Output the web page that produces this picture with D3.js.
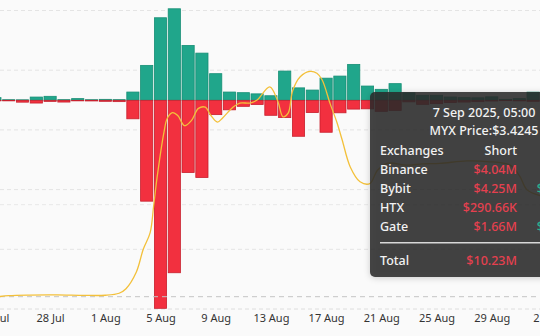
<!DOCTYPE html>
<html>
<head>
<meta charset="utf-8">
<script src="https://cdn.jsdelivr.net/npm/d3@7"></script>
<style>
  html, body { margin: 0; padding: 0; background: #fafafa; }
  svg { display: block; font-family: "Noto Sans", "DejaVu Sans", sans-serif; }
</style>
</head>
<body>
<svg id="chart" width="540" height="336"></svg>
<script>
// Daily liquidations for MYX (USD millions): longs above zero, shorts below
const days = [
  "2025-07-24","2025-07-25","2025-07-26","2025-07-27","2025-07-28","2025-07-29","2025-07-30","2025-07-31",
  "2025-08-01","2025-08-02","2025-08-03","2025-08-04","2025-08-05","2025-08-06","2025-08-07","2025-08-08",
  "2025-08-09","2025-08-10","2025-08-11","2025-08-12","2025-08-13","2025-08-14","2025-08-15","2025-08-16",
  "2025-08-17","2025-08-18","2025-08-19","2025-08-20","2025-08-21","2025-08-22","2025-08-23","2025-08-24",
  "2025-08-25","2025-08-26","2025-08-27","2025-08-28","2025-08-29","2025-08-30","2025-08-31","2025-09-01"
];
const longLiq = [
  0.52, 0.12, 0.10, 0.63, 0.77, 0.13, 0.33, 0.12,
  0.19, 0.13, 1.59, 6.70, 15.83, 17.55, 10.53, 9.05,
  5.11, 1.59, 1.47, 1.24, 0.88, 5.61, 2.39, 1.97,
  4.25, 4.65, 6.89, 2.74, 2.11, 3.20, 1.44, 0.96,
  0.96, 0.63, 0.52, 0.48, 0.67, 0.19, 0.33, 1.57
];
const shortLiq = [
  0.10, 0.10, 0.35, 0.52, 0.20, 0.33, 0.10, 0.12,
  0.19, 0.25, 3.54, 19.33, 39.87, 33.05, 13.84, 14.79,
  2.74, 1.82, 1.15, 0.80, 2.87, 3.31, 6.89, 2.35,
  6.12, 2.39, 1.68, 1.63, 2.11, 1.95, 0.29, 0.77,
  0.63, 0.42, 0.33, 0.25, 0.13, 0.06, 0.10, 0.19
];

// MYX price (USD)
const priceTimes = [
  "2025-07-24T06:00","2025-07-25T00:00","2025-07-26T12:00","2025-07-28T12:00","2025-07-30T12:00",
  "2025-08-01T00:00","2025-08-02T00:00","2025-08-02T12:00","2025-08-03T06:00","2025-08-03T18:00",
  "2025-08-04T06:00","2025-08-04T12:00","2025-08-04T18:00","2025-08-05T06:00","2025-08-05T12:00",
  "2025-08-05T21:00","2025-08-06T06:00","2025-08-06T18:00","2025-08-07T06:00","2025-08-07T18:00",
  "2025-08-08T06:00","2025-08-08T15:00","2025-08-09T03:00","2025-08-09T12:00","2025-08-10T06:00",
  "2025-08-10T18:00","2025-08-11T12:00","2025-08-12T00:00","2025-08-12T22:00","2025-08-13T12:00",
  "2025-08-13T21:00","2025-08-14T06:00","2025-08-14T14:00","2025-08-15T03:00","2025-08-15T20:00",
  "2025-08-16T08:00","2025-08-16T17:00","2025-08-17T07:00","2025-08-17T19:00","2025-08-18T04:00",
  "2025-08-18T18:00","2025-08-19T11:00","2025-08-20T04:00","2025-08-20T17:00","2025-08-21T10:00",
  "2025-08-22T21:00","2025-08-24T00:00","2025-08-25T06:00","2025-08-27T05:00","2025-08-28T16:00",
  "2025-08-30T08:00","2025-08-31T01:00","2025-08-31T13:00","2025-09-01T12:00"
];
const priceValues = [
  0.103, 0.112, 0.117, 0.118, 0.114,
  0.115, 0.132, 0.170, 0.310, 0.500,
  0.640, 0.860, 1.100, 1.480, 1.600,
  1.645, 1.620, 1.535, 1.580, 1.680,
  1.690, 1.625, 1.565, 1.600, 1.690,
  1.725, 1.725, 1.750, 1.860, 1.740,
  1.610, 1.640, 1.830, 1.945, 1.990,
  1.975, 1.920, 1.720, 1.560, 1.415,
  1.190, 1.066, 1.050, 1.160, 1.220,
  1.205, 1.215, 1.220, 1.240, 1.235,
  1.205, 1.110, 1.000, 0.950
];

const tickDates = ["2025-07-24","2025-07-28","2025-08-01","2025-08-05","2025-08-09","2025-08-13",
                   "2025-08-17","2025-08-21","2025-08-25","2025-08-29","2025-09-02"];
const tickLabels = ["24 Jul","28 Jul","1 Aug","5 Aug","9 Aug","13 Aug","17 Aug","21 Aug","25 Aug","29 Aug","2 Sep"];

const barTicks = [-40, -20, 0, 20];
const priceTicks = [0, 0.5, 1, 1.5, 2, 2.5];

// Tooltip contents for the hovered hour
const tipTitle = "7 Sep 2025, 05:00";
const tipPrice = "MYX Price:$3.4245";
const tipHeaders = ["Exchanges", "Short", "Long"];
const tipExchanges = ["Binance", "Bybit", "HTX", "Gate"];
const tipShort = ["$4.04M", "$4.25M", "$290.66K", "$1.66M"];
const tipLong = ["$2.1M", "$850.46K", "$0", "$120.35K"];
const tipTotalLabel = "Total";
const tipTotalShort = "$10.23M";
const tipTotalLong = "$3.07M";

const parse = d3.utcParse("%Y-%m-%d");
const parseT = d3.utcParse("%Y-%m-%dT%H:%M");

const W = 540, H = 336;
const svg = d3.select("#chart");

const x = d3.scaleUtc()
  .domain([parse("2025-07-24"), parse("2025-09-02")])
  .range([-5.1, 546.9]);
const yBar = d3.scaleLinear().domain([-40, 20]).range([309, -4]);
const yPrice = d3.scaleLinear().domain([0, 2.5]).range([309, 10.5]);

svg.append("rect").attr("width", W).attr("height", H).attr("fill", "#fafafa");

// grid lines
const grid = svg.append("g");
grid.selectAll("line.pg").data(priceTicks).join("line")
  .attr("x1", 0).attr("x2", W)
  .attr("y1", d => yPrice(d)).attr("y2", d => yPrice(d))
  .attr("stroke", "#e4e4e4").attr("stroke-width", 1).attr("stroke-dasharray", "4,3");
grid.selectAll("line.bg").data(barTicks.filter(d => d !== 0)).join("line")
  .attr("x1", 0).attr("x2", W)
  .attr("y1", d => yBar(d)).attr("y2", d => yBar(d))
  .attr("stroke", "#e8e8e8").attr("stroke-width", 1).attr("stroke-dasharray", "4,3");

// bars
const barW = 12.2;
const rows = days.map((d, i) => ({ date: parse(d), long: longLiq[i], short: shortLiq[i] }));
const bars = svg.append("g");
bars.selectAll("rect.long").data(rows).join("rect")
  .attr("x", d => x(d.date) - barW / 2)
  .attr("width", barW)
  .attr("y", d => yBar(d.long))
  .attr("height", d => yBar(0) - yBar(d.long))
  .attr("fill", "#20a68b")
  .attr("stroke", "#178f76").attr("stroke-width", 0.8);
bars.selectAll("rect.short").data(rows).join("rect")
  .attr("x", d => x(d.date) - barW / 2)
  .attr("width", barW)
  .attr("y", yBar(0))
  .attr("height", d => yBar(-d.short) - yBar(0))
  .attr("fill", "#f2303f")
  .attr("stroke", "#c8202e").attr("stroke-width", 0.8);

// starting price reference
svg.append("line")
  .attr("x1", 0).attr("x2", W)
  .attr("y1", yPrice(priceValues[0])).attr("y2", yPrice(priceValues[0]))
  .attr("stroke", "#c4c4c4").attr("stroke-width", 1).attr("stroke-dasharray", "5,4");

// price line
const pricePts = priceTimes.map((t, i) => [parseT(t), priceValues[i]]);
svg.append("path")
  .datum(pricePts)
  .attr("fill", "none")
  .attr("stroke", "#f3c03a")
  .attr("stroke-width", 1.3)
  .attr("d", d3.line().x(d => x(d[0])).y(d => yPrice(d[1])).curve(d3.curveCatmullRom.alpha(0.5)));

// x axis labels
const xAxis = d3.axisBottom(x)
  .tickValues(tickDates.map(parse))
  .tickFormat((d, i) => tickLabels[i])
  .tickSize(0).tickPadding(0);
const gx = svg.append("g").attr("transform", "translate(0,314)").call(xAxis);
gx.select(".domain").remove();
gx.selectAll("text").attr("font-size", 11).attr("fill", "#333").attr("dy", "0.71em")
  .attr("font-family", "Noto Sans, sans-serif");

// tooltip
const defs = svg.append("defs");
const f = defs.append("filter").attr("id", "tipShadow").attr("x", "-20%").attr("y", "-20%").attr("width", "140%").attr("height", "140%");
f.append("feDropShadow").attr("dx", 0).attr("dy", 1).attr("stdDeviation", 3)
  .attr("flood-color", "#000").attr("flood-opacity", 0.22);

const tip = svg.append("g").attr("transform", "translate(370,92)");
tip.append("rect").attr("width", 240).attr("height", 185).attr("rx", 5)
  .attr("fill", "rgb(40,40,40)").attr("fill-opacity", 0.86)
  .attr("filter", "url(#tipShadow)");

const txt = (g, s, xx, yy, anchor, color) => g.append("text")
  .attr("x", xx).attr("y", yy).attr("text-anchor", anchor)
  .attr("fill", color).attr("font-size", 12.5).attr("font-weight", 500).text(s);

txt(tip, tipTitle, 114, 24.5, "middle", "#f2f2f2");
txt(tip, tipPrice, 114, 43, "middle", "#f2f2f2");
const colL = 10, colS = 147, colLong = 221;
const rowY = [62.5, 81.5, 100.5, 119.5, 138.5];
txt(tip, tipHeaders[0], colL, rowY[0], "start", "#f2f2f2");
txt(tip, tipHeaders[1], colS, rowY[0], "end", "#f2f2f2");
txt(tip, tipHeaders[2], colLong, rowY[0], "end", "#f2f2f2");
tipExchanges.forEach((e, i) => {
  txt(tip, e, colL, rowY[i + 1], "start", "#f2f2f2");
  txt(tip, tipShort[i], colS, rowY[i + 1], "end", "#e5404f");
  txt(tip, tipLong[i], colLong, rowY[i + 1], "end", "#26b38f");
});
tip.append("line").attr("x1", colL).attr("x2", 230).attr("y1", 150.7).attr("y2", 150.7)
  .attr("stroke", "#d8d8d8").attr("stroke-width", 1.5);
txt(tip, tipTotalLabel, colL, 172.5, "start", "#f2f2f2");
txt(tip, tipTotalShort, colS, 172.5, "end", "#e5404f");
txt(tip, tipTotalLong, colLong, 172.5, "end", "#26b38f");
</script>
</body>
</html>
